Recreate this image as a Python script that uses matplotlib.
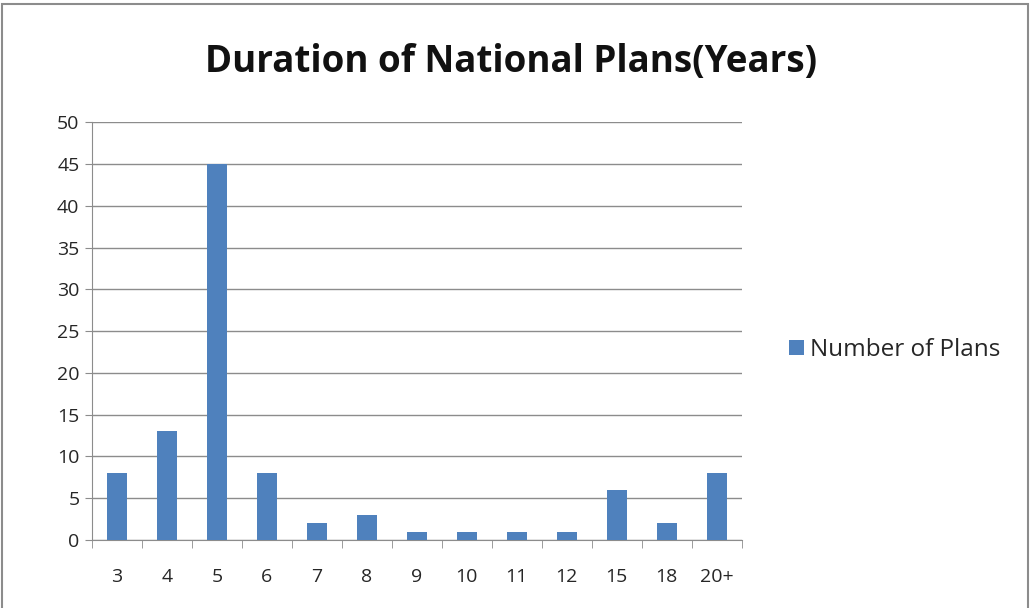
import matplotlib
matplotlib.use("Agg")
from matplotlib import pyplot as plt
from matplotlib.patches import Rectangle
import numpy as np

categories = ['3', '4', '5', '6', '7', '8', '9', '10', '11', '12', '15', '18', '20+']
plans = [8, 13, 45, 8, 2, 3, 1, 1, 1, 1, 6, 2, 8]
yticks = [0, 5, 10, 15, 20, 25, 30, 35, 40, 45, 50]

plt.rcParams['font.family'] = ['Open Sans', 'DejaVu Sans']
txt = '#262626'

fig = plt.figure(figsize=(10.33, 6.08), dpi=100)
ax = fig.add_axes([0.089, 0.112, 0.629, 0.687])

x = np.arange(len(categories))
ax.bar(x, plans, width=0.4, color='#4F81BD', label='Number of Plans', zorder=3)

ax.set_xlim(-0.5, len(categories) - 0.5)
ax.set_ylim(0, 50)
ax.set_yticks(yticks)
ax.set_yticklabels([str(v) for v in yticks], fontsize=14, color=txt)
ax.yaxis.grid(True, color='#8c8c8c', linewidth=1, zorder=0)

ax.set_xticks(x)
ax.set_xticklabels(categories, fontsize=14, color=txt)
ax.tick_params(axis='x', length=0, pad=20)
ax.set_xticks(np.arange(-0.5, len(categories)), minor=True)
ax.tick_params(axis='x', which='minor', length=6, color='#8c8c8c', direction='out')
ax.tick_params(axis='y', length=5, color='#8c8c8c', direction='out', pad=4)

for s in ['top', 'right']:
    ax.spines[s].set_visible(False)
for s in ['left', 'bottom']:
    ax.spines[s].set_color('#8c8c8c')

fig.text(0.495, 0.898, 'Duration of National Plans(Years)', ha='center', va='center',
         fontsize=26.5, fontweight='bold', color='#111111')

leg = fig.legend(loc='center left', bbox_to_anchor=(0.764, 0.424), frameon=False,
                 fontsize=17.5, handlelength=0.6, handleheight=0.6, handletextpad=0.25,
                 borderaxespad=0, borderpad=0)
for t in leg.get_texts():
    t.set_color(txt)

fig.patches.append(Rectangle((0.002, -0.01), 0.993, 1.004, transform=fig.transFigure,
                             fill=False, edgecolor='#8c8c8c', linewidth=1.5))

fig.savefig('out.png', dpi=100)
